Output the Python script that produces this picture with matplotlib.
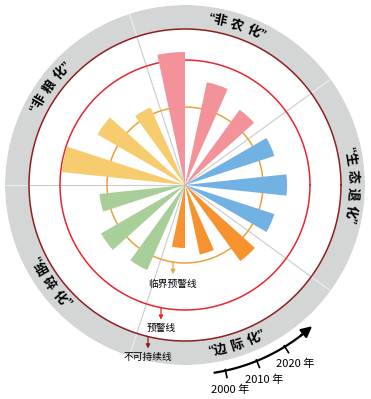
import numpy as np
import matplotlib.pyplot as plt

plt.rcParams['font.family'] = ['Noto Sans CJK SC', 'DejaVu Sans']

# sectors, counter-clockwise from the east
categories = ['生态退化', '非农化', '非粮化', '细碎化', '边际化']
sector_deg = [0, 72, 144, 216, 288]
colors = ['#72B2E2', '#F4929A', '#F7CC6F', '#A8CF99', '#F6932F']

years = ['2000 年', '2010 年', '2020 年']
v2000 = [94, 93, 85, 86, 63]
v2010 = [102, 105, 101, 97, 71]
v2020 = [94, 133, 124, 93, 94]

thresholds = [78, 125, 156]
threshold_names = ['临界预警线', '预警线', '不可持续线']
threshold_colors = ['#E9A23B', '#E8262D', '#8E1F20']

R_MAX = 180


def pol(x, y):
    # cartesian offset from the centre -> (theta, r)
    return np.arctan2(y, x), np.hypot(x, y)


def arc_text(ax, text, center, r=168, step=6.0, qstep=2.9, outward=True):
    pos = [0.0]
    for a, b in zip(text[:-1], text[1:]):
        s = qstep if (a in '“”' or b in '“”') else step
        pos.append(pos[-1] + s)
    mid = (pos[0] + pos[-1]) / 2
    for ch, p in zip(text, pos):
        p = p - mid
        if outward:
            ang = center - p
            rot = ang - 90
        else:
            ang = center + p
            rot = ang + 90
        fam = ['Liberation Sans'] if ch in '“”' else ['Noto Sans CJK SC', 'DejaVu Sans']
        ax.text(np.radians(ang), r, ch, rotation=rot, rotation_mode='anchor',
                ha='center', va='center', fontsize=9.5, fontweight='bold',
                color='black', family=fam)


fig = plt.figure(figsize=(3.71, 3.99), dpi=100)
ax = fig.add_axes([5 / 371, 34 / 399, 360 / 371, 360 / 399], projection='polar')
ax.set_ylim(0, R_MAX)
ax.set_axis_off()

# outer gray ring
ax.bar(0, R_MAX - thresholds[2], width=2 * np.pi, bottom=thresholds[2],
       color='#D4D6D6', edgecolor='none', zorder=0)

# sector dividers
for d in sector_deg:
    t = np.radians(d + 36)
    ax.plot([t, t], [0, thresholds[2]], color='#CBCBCB', lw=0.8, zorder=1)
    ax.plot([t, t], [thresholds[2], R_MAX], color='#EDEDED', lw=0.8, zorder=1)

# threshold circles
circ = np.linspace(0, 2 * np.pi, 400)
for r, c in zip(thresholds, threshold_colors):
    ax.plot(circ, np.full_like(circ, r), color=c, lw=1.1, zorder=2)

# bars: one wedge per year inside each sector
width = np.radians(12)
for k, vals in enumerate([v2000, v2010, v2020]):
    theta = np.radians(np.array(sector_deg) + (k - 1) * 24)
    ax.bar(theta, vals, width=width, color=colors, edgecolor='none', zorder=3)

# sector labels along the ring
for name, d in zip(categories, sector_deg):
    label = '“' + name + '”'
    outward = d in (0, 72, 144)
    arc_text(ax, label, d, outward=outward)

# threshold annotations
arrow_x = [-12, -24, -37]
text_y = [-99, -143, -172]
for r, name, c, x, ty in zip(thresholds, threshold_names, threshold_colors, arrow_x, text_y):
    y0 = -np.sqrt(r ** 2 - x ** 2)
    ax.annotate('', xy=pol(x, y0 - 12), xytext=pol(x, y0),
                arrowprops=dict(arrowstyle='-|>', color=c, lw=0.9, mutation_scale=6,
                                shrinkA=0, shrinkB=0), annotation_clip=False, zorder=4)
    ax.text(*pol(x, ty), name, ha='center', va='center', fontsize=7, color='black')

# time direction arrow
arc_t = np.radians(np.linspace(-81, -52, 60))
ax.plot(arc_t, np.full_like(arc_t, 190), color='black', lw=1.6, clip_on=False)
ax.annotate('', xy=(np.radians(-48.0), 190), xytext=(np.radians(-52.5), 190),
            arrowprops=dict(arrowstyle='-|>', color='black', lw=1.6, mutation_scale=16,
                            shrinkA=0, shrinkB=0), annotation_clip=False)
for yr, d in zip(years, [-77.7, -67.8, -58.3]):
    t = np.radians(d)
    ax.plot([t, t], [189, 197], color='black', lw=1.2, clip_on=False)
    ax.text(t, 210, yr, ha='center', va='center', fontsize=8, color='black')

fig.savefig('out.png', dpi=100)
